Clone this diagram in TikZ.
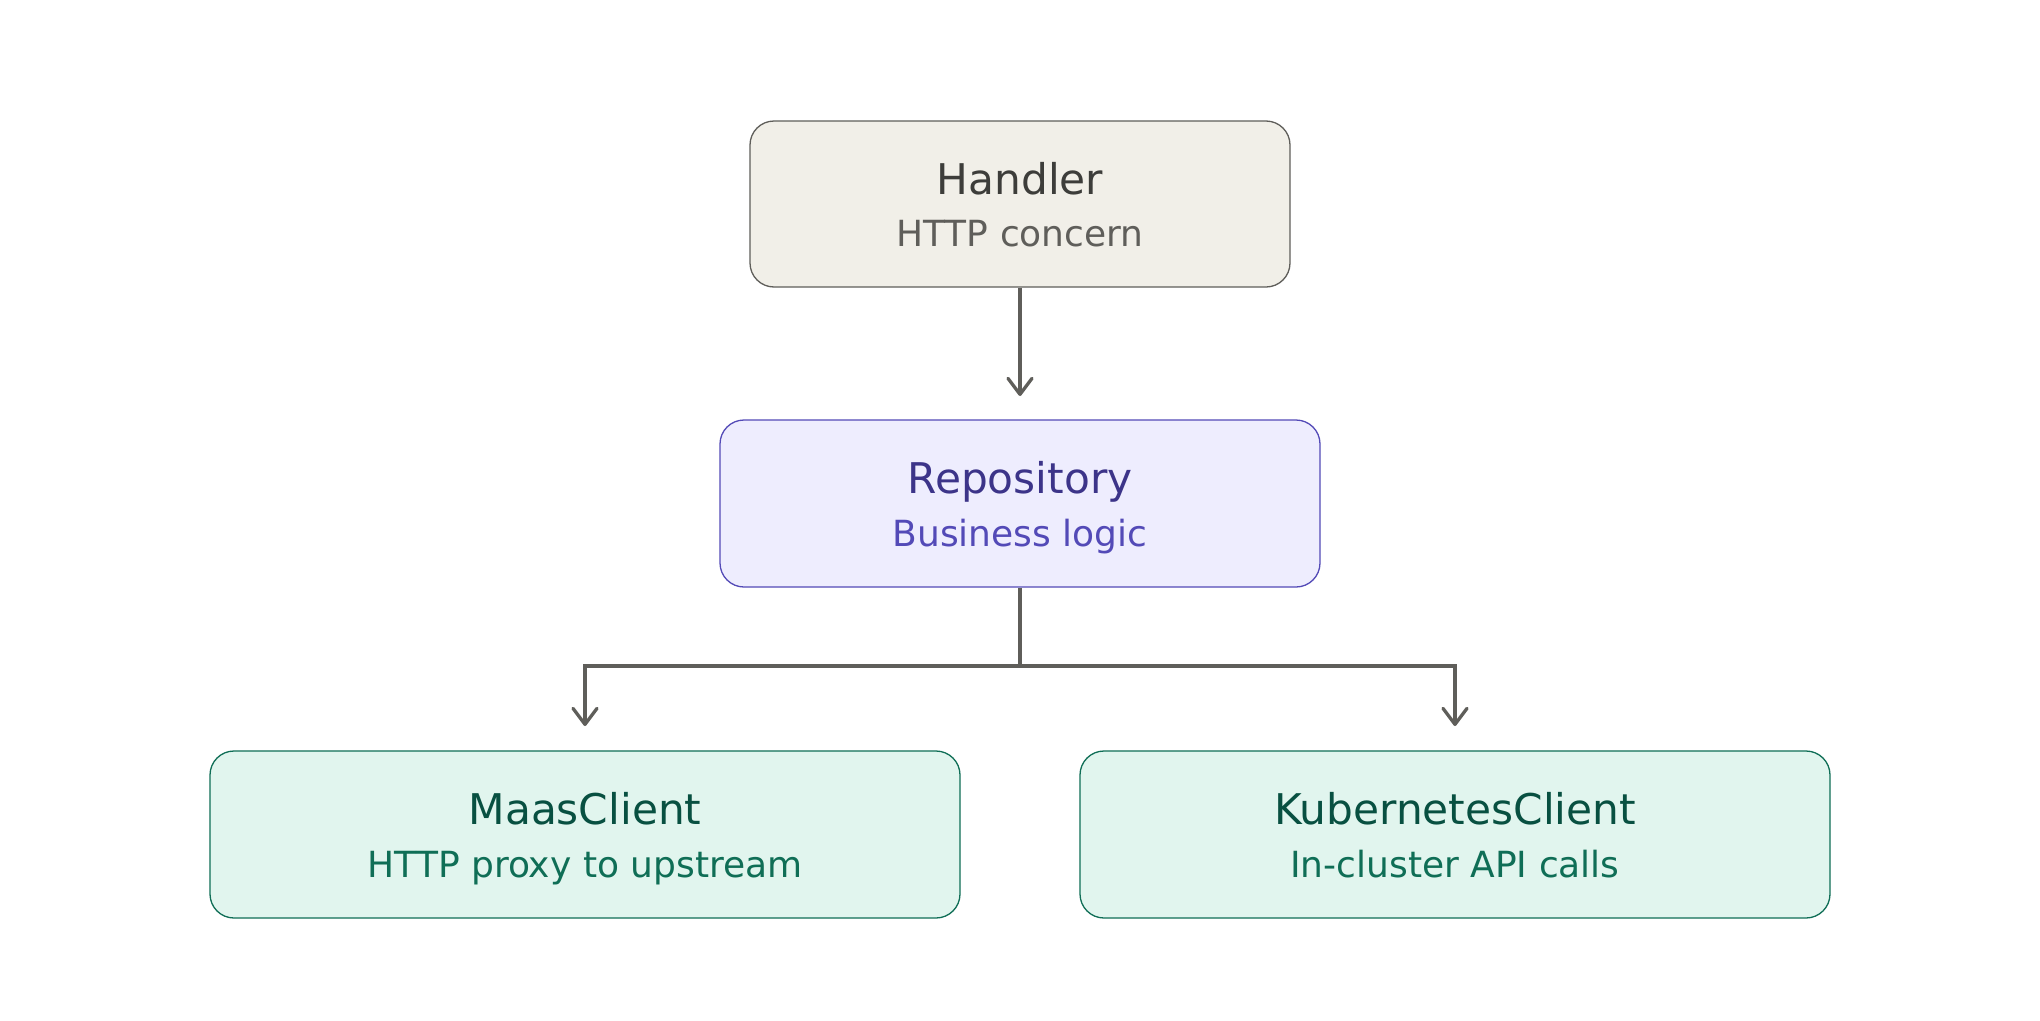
\documentclass[tikz,border=0pt]{standalone}
\usepackage{fontspec}
\setmainfont{DejaVu Sans}
\usetikzlibrary{arrows.meta}
\definecolor{hfill}{HTML}{F1EFE8}
\definecolor{hline}{HTML}{5F5E5A}
\definecolor{htitle}{HTML}{3D3D3A}
\definecolor{rfill}{HTML}{EEEDFE}
\definecolor{rline}{HTML}{534AB7}
\definecolor{rtitle}{HTML}{3C3489}
\definecolor{cfill}{HTML}{E1F5EE}
\definecolor{cline}{HTML}{0F6E56}
\definecolor{ctitle}{HTML}{085041}
\definecolor{conn}{HTML}{5F5E5A}
\tikzset{
  boxbase/.style={rectangle, rounded corners=24pt, line width=1.3pt, inner sep=0pt},
  hbox/.style={boxbase, draw=hline, fill=hfill},
  rbox/.style={boxbase, draw=rline, fill=rfill},
  cbox/.style={boxbase, draw=cline, fill=cfill},
  ttl/.style={anchor=base, inner sep=0pt, font=\fontsize{42.3}{48}\selectfont},
  sub/.style={anchor=base, inner sep=0pt, font=\fontsize{36}{42}\selectfont},
  wire/.style={draw=conn, line width=3.3pt},
  arrowwire/.style={wire, -{Straight Barb[length=16pt, width=24pt, line width=3.3pt, round]}},
}
\begin{document}
\begin{tikzpicture}[x=1pt,y=-1pt]
\useasboundingbox[fill=white] (0,0) rectangle (2040,1020);
% boxes
\node[hbox, minimum width=540pt, minimum height=166pt] (h) at (1020,204) {};
\node[rbox, minimum width=600pt, minimum height=167pt] (r) at (1020,503.5) {};
\node[cbox, minimum width=750pt, minimum height=167pt] (m) at (585,834.5) {};
\node[cbox, minimum width=750pt, minimum height=167pt] (k) at (1455,834.5) {};
% texts
\node[ttl, text=htitle] (ht) at (1020,194) {Handler};
\node[sub, text=hline] (hs) at (1020,246.5) {HTTP concern};
\node[ttl, text=rtitle] (rt) at (1020,493) {Repository};
\node[sub, text=rline] (rs) at (1020,546) {Business logic};
\node[ttl, text=ctitle] (mt) at (585,824) {MaasClient};
\node[sub, text=cline] (ms) at (585,877) {HTTP proxy to upstream};
\node[ttl, text=ctitle] (kt) at (1455,824) {KubernetesClient};
\node[sub, text=cline] (ks) at (1455,877) {In-cluster API calls};
% connectors
\coordinate (rtip) at (1020,396);
\coordinate (jn) at (1020,666);
\coordinate (mtip) at (585,726);
\coordinate (ktip) at (1455,726);
\draw[arrowwire] (h.south) -- (rtip);
\draw[wire] (r.south) -- (jn);
\draw[arrowwire] (jn) -| (mtip);
\draw[arrowwire] (jn) -| (ktip);
\end{tikzpicture}
\end{document}
